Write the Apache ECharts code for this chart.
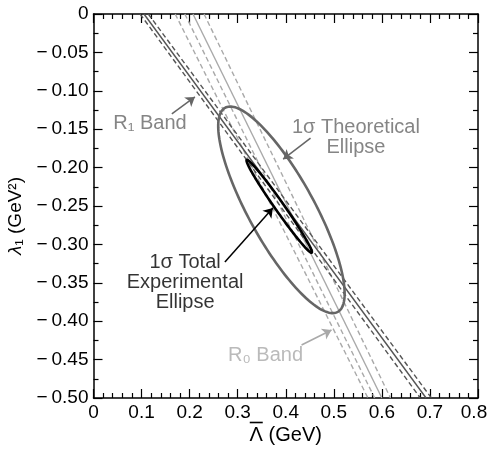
<!DOCTYPE html>
<html>
<head>
<meta charset="utf-8">
<script src="https://cdn.jsdelivr.net/npm/echarts@6/dist/echarts.min.js"></script>
<style>
  html, body { margin: 0; padding: 0; background: #fff; }
  #main { width: 487px; height: 453px; }
</style>
</head>
<body>
<div id="main"></div>
<script>
// tick labels
const xTickLabels = ['0', '0.1', '0.2', '0.3', '0.4', '0.5', '0.6', '0.7', '0.8'];
const yTickLabels = ['0', '−\u20090.05', '−\u20090.10', '−\u20090.15', '−\u20090.20', '−\u20090.25',
  '−\u20090.30', '−\u20090.35', '−\u20090.40', '−\u20090.45', '−\u20090.50'];

// bands: Lambda-bar where the line meets lambda1 = 0 (top) and lambda1 = -0.5 (bottom)
const r1Top = [0.097, 0.105, 0.114];
const r1Bottom = [0.680, 0.692, 0.703];
const r1Dashed = [true, false, true];
const r0Top = [0.170, 0.190, 0.207, 0.230];
const r0Bottom = [0.571, 0.585, 0.600, 0.618];
const r0Dashed = [true, true, false, true];

// ellipses: centre x, centre y, major semi-axis dx, dy, minor semi-axis dx, dy
const theoryEllipse = [0.391, -0.255, 0.1172, -0.1329, -0.0597, -0.0206];
const exptEllipse = [0.3864, -0.2504, 0.0676, -0.0604, 0.0077, 0.0034];

// annotations
const noteText = ['R₁ Band', '1σ Theoretical\nEllipse', '1σ Total\nExperimental\nEllipse', 'R₀ Band'];
const notePos = [[0.1175, -0.142], [0.546, -0.161], [0.1906, -0.349], [0.358, -0.445]];
const arrowFrom = [[0.163, -0.130], [0.4516, -0.1615], [0.2734, -0.323], [0.4329, -0.431]];
const arrowTo = [[0.211, -0.108], [0.3946, -0.189], [0.3732, -0.2526], [0.4952, -0.4115]];

const FONT = '"Liberation Sans", Arial, Helvetica, sans-serif';
const DARK = '#555555';
const LIGHT = '#a9a9a9';
const noteColors = ['#666666', '#666666', '#000000', '#a9a9a9'];

const chart = echarts.init(document.getElementById('main'));

function bandSeries(tops, bottoms, dashed, color) {
  return tops.map((t, i) => ({
    type: 'line',
    data: [[t, 0], [bottoms[i], -0.5]],
    symbol: 'none',
    silent: true,
    z: 2,
    lineStyle: { color: color, width: 1.4, type: dashed[i] ? [5, 3] : 'solid' }
  }));
}

function ellipseSeries(e, color, width) {
  return {
    type: 'custom',
    data: [e],
    encode: { x: 0, y: 1 },
    silent: true,
    z: 3,
    renderItem: function (params, api) {
      const cx = api.value(0), cy = api.value(1);
      const ax = api.value(2), ay = api.value(3);
      const bx = api.value(4), by = api.value(5);
      const pts = [];
      for (let k = 0; k < 180; k++) {
        const t = k / 180 * Math.PI * 2;
        const c = Math.cos(t), s = Math.sin(t);
        pts.push(api.coord([cx + ax * c + bx * s, cy + ay * c + by * s]));
      }
      return {
        type: 'polygon',
        shape: { points: pts },
        style: { fill: 'none', stroke: color, lineWidth: width }
      };
    }
  };
}

const axisCommon = {
  axisLine: { onZero: false, lineStyle: { color: '#000', width: 1.5 } },
  axisTick: { inside: true, length: 9, lineStyle: { color: '#000', width: 1.2 } },
  minorTick: { show: true, length: 5, lineStyle: { color: '#000', width: 1.2 } },
  splitLine: { show: false },
  minorSplitLine: { show: false }
};

const option = {
  animation: false,
  backgroundColor: '#fff',
  textStyle: { fontFamily: FONT },
  grid: { left: 93.5, right: 9, top: 14, bottom: 55, outerBoundsMode: 'none' },
  xAxis: [
    Object.assign({}, axisCommon, {
      type: 'value', min: 0, max: 0.8, interval: 0.1, position: 'bottom',
      minorTick: Object.assign({}, axisCommon.minorTick, { splitNumber: 5 }),
      axisLabel: {
        margin: 5, color: '#000', fontSize: 19, fontFamily: FONT,
        formatter: v => {
          const i = Math.round(v * 10);
          // last label nudged left so it stays inside the picture
          return i === xTickLabels.length - 1 ? '{end|' + xTickLabels[i] + '}' : xTickLabels[i];
        },
        rich: { end: { fontSize: 19, fontFamily: FONT, color: '#000', padding: [0, 8, 0, 0] } }
      },
      // overbar drawn as a thin background token above the Lambda
      name: '{bar| }{sp| }\n{L|Λ} (GeV)',
      nameLocation: 'middle',
      nameGap: 22,
      nameMoveOverlap: false,
      nameTextStyle: {
        color: '#000', fontSize: 20, fontFamily: FONT, lineHeight: 20,
        rich: {
          bar: { width: 13, height: 1.6, lineHeight: 5, backgroundColor: '#000', fontSize: 2 },
          sp: { width: 59, height: 1.6, lineHeight: 5, fontSize: 2 },
          L: { fontSize: 20, lineHeight: 20, fontFamily: FONT, color: '#000' }
        }
      }
    }),
    Object.assign({}, axisCommon, {
      type: 'value', min: 0, max: 0.8, interval: 0.1, position: 'top',
      minorTick: Object.assign({}, axisCommon.minorTick, { splitNumber: 5 }),
      axisLabel: { show: false }
    })
  ],
  yAxis: [
    Object.assign({}, axisCommon, {
      type: 'value', min: -0.5, max: 0, interval: 0.05, position: 'left',
      minorTick: Object.assign({}, axisCommon.minorTick, { splitNumber: 2 }),
      axisLabel: {
        margin: 5, color: '#000', fontSize: 19, fontFamily: FONT,
        formatter: v => yTickLabels[Math.round(-v * 20)]
      },
      name: '{i|λ}₁ (GeV²)',
      nameLocation: 'middle',
      nameGap: 68,
      nameTextStyle: {
        color: '#000', fontSize: 19, fontFamily: FONT, padding: [0, 20, 0, 0],
        rich: { i: { fontStyle: 'italic', fontSize: 19, fontFamily: FONT, color: '#000' } }
      }
    }),
    Object.assign({}, axisCommon, {
      type: 'value', min: -0.5, max: 0, interval: 0.05, position: 'right',
      minorTick: Object.assign({}, axisCommon.minorTick, { splitNumber: 2 }),
      axisLabel: { show: false }
    })
  ],
  series: [
    ...bandSeries(r0Top, r0Bottom, r0Dashed, LIGHT),
    ...bandSeries(r1Top, r1Bottom, r1Dashed, DARK),
    ellipseSeries(theoryEllipse, '#666666', 2.6),
    ellipseSeries(exptEllipse, '#000000', 2.6),
    {
      type: 'lines',
      coordinateSystem: 'cartesian2d',
      silent: true,
      z: 4,
      symbol: ['none', 'arrow'],
      symbolSize: [0, 9],
      lineStyle: { width: 1.5, opacity: 1, curveness: 0 },
      data: arrowFrom.map((f, i) => ({
        coords: [f, arrowTo[i]],
        lineStyle: { color: noteColors[i] }
      }))
    },
    {
      type: 'scatter',
      symbolSize: 0,
      silent: true,
      z: 5,
      data: notePos.map((p, i) => ({
        value: p,
        label: { color: noteColors[i] }
      })),
      label: {
        show: true,
        position: 'inside',
        align: 'center',
        verticalAlign: 'middle',
        fontSize: 20,
        lineHeight: 20,
        fontFamily: FONT,
        formatter: p => noteText[p.dataIndex]
      }
    }
  ]
};

chart.setOption(option);
</script>
</body>
</html>
